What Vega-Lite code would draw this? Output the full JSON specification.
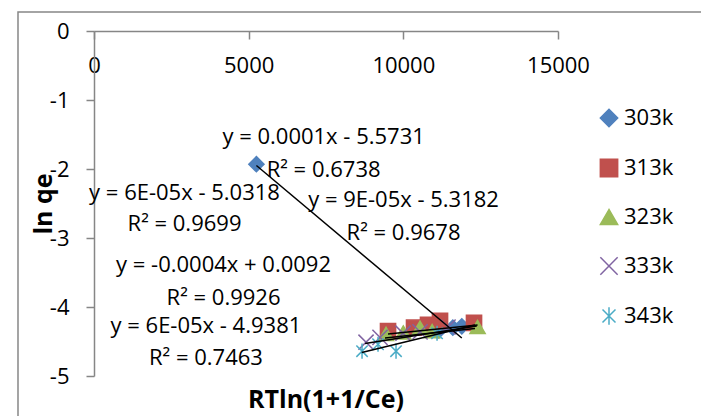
{
  "$schema": "https://vega.github.io/schema/vega-lite/v6.json",
  "width": 464,
  "height": 345,
  "autosize": {"type": "none"},
  "padding": {"left": 94, "top": 31, "right": 143, "bottom": 40},
  "background": "white",
  "config": {
    "locale": {
      "number": {"decimal": ".", "thousands": "", "grouping": [3], "currency": ["", ""], "minus": "-"}
    },
    "view": {"stroke": null},
    "font": "Open Sans",
    "axis": {
      "grid": false,
      "domainColor": "#868686",
      "domainWidth": 1.5,
      "tickColor": "#868686",
      "tickWidth": 1.5,
      "tickSize": 8,
      "labelColor": "#000000",
      "labelFont": "Open Sans",
      "labelFontSize": 22,
      "labelFlush": false,
      "labelOverlap": false,
      "titleFont": "Open Sans",
      "titleFontSize": 25,
      "titleFontWeight": "bold",
      "titleColor": "#000000"
    }
  },
  "datasets": {
    "points": [
      {"series": "303k", "x": 5250, "y": -1.93},
      {"series": "303k", "x": 11150, "y": -4.34},
      {"series": "303k", "x": 11600, "y": -4.3},
      {"series": "303k", "x": 11890, "y": -4.28},
      {"series": "313k", "x": 9505, "y": -4.35},
      {"series": "313k", "x": 10346, "y": -4.3},
      {"series": "313k", "x": 10798, "y": -4.26},
      {"series": "313k", "x": 11186, "y": -4.2},
      {"series": "313k", "x": 12285, "y": -4.23},
      {"series": "323k", "x": 9440, "y": -4.39},
      {"series": "323k", "x": 10000, "y": -4.37},
      {"series": "323k", "x": 10540, "y": -4.3},
      {"series": "323k", "x": 10930, "y": -4.35},
      {"series": "323k", "x": 12400, "y": -4.29},
      {"series": "333k", "x": 8794, "y": -4.51},
      {"series": "333k", "x": 9246, "y": -4.44},
      {"series": "333k", "x": 9990, "y": -4.38},
      {"series": "333k", "x": 10540, "y": -4.36},
      {"series": "333k", "x": 11445, "y": -4.29},
      {"series": "343k", "x": 8665, "y": -4.64},
      {"series": "343k", "x": 9182, "y": -4.54},
      {"series": "343k", "x": 9764, "y": -4.64},
      {"series": "343k", "x": 11090, "y": -4.38}
    ],
    "trend": [
      {"series": "303k", "x": 5250, "y": -1.95},
      {"series": "303k", "x": 11890, "y": -4.45},
      {"series": "313k", "x": 9505, "y": -4.39},
      {"series": "313k", "x": 12400, "y": -4.26},
      {"series": "323k", "x": 9408, "y": -4.45},
      {"series": "323k", "x": 12318, "y": -4.31},
      {"series": "333k", "x": 8762, "y": -4.53},
      {"series": "333k", "x": 12373, "y": -4.275},
      {"series": "343k", "x": 8655, "y": -4.66},
      {"series": "343k", "x": 12318, "y": -4.26}
    ],
    "equations": [
      {"label": "y = 0.0001x - 5.5731", "x": 7423, "y": -1.532},
      {"label": "R² = 0.6738", "x": 7423, "y": -2.014},
      {"label": "y = 6E-05x - 5.0318", "x": 2926, "y": -2.343},
      {"label": "R² = 0.9699", "x": 2926, "y": -2.797},
      {"label": "y = 9E-05x - 5.3182", "x": 10007, "y": -2.449},
      {"label": "R² = 0.9678", "x": 10007, "y": -2.923},
      {"label": "y = -0.0004x + 0.0092", "x": 4187, "y": -3.391},
      {"label": "R² = 0.9926", "x": 4187, "y": -3.865},
      {"label": "y = 6E-05x - 4.9381", "x": 3618, "y": -4.275},
      {"label": "R² = 0.7463", "x": 3618, "y": -4.744}
    ]
  },
  "layer": [
    {
      "data": {"name": "points"},
      "mark": {"type": "point", "opacity": 1, "strokeWidth": 1.5, "size": 230},
      "encoding": {
        "x": {
          "field": "x", "type": "quantitative",
          "scale": {"domain": [0, 15000], "nice": false, "zero": false},
          "axis": {"title": null, "orient": "bottom", "offset": -345, "values": [0, 5000, 10000, 15000], "format": "d", "labelPadding": 16}
        },
        "y": {
          "field": "y", "type": "quantitative",
          "scale": {"domain": [-5, 0], "nice": false, "zero": false},
          "axis": {"title": "ln qe", "values": [-5, -4, -3, -2, -1, 0], "format": "d", "labelPadding": 17, "titlePadding": -7}
        },
        "shape": {
          "field": "series", "type": "nominal",
          "scale": {
            "domain": ["303k", "313k", "323k", "333k", "343k"],
            "range": ["diamond", "square", "triangle-up", "M-1,-1L1,1M-1,1L1,-1", "M0,-1L0,1M-0.75,-0.75L0.75,0.75M-0.75,0.75L0.75,-0.75"]
          },
          "legend": {"title": null, "orient": "none", "legendX": 504, "legendY": 76, "labelFontSize": 22, "labelFont": "Open Sans", "labelColor": "#000000", "symbolSize": 300, "symbolStrokeWidth": 1.5, "rowPadding": 26, "labelOffset": 4}
        },
        "fill": {
          "field": "series", "type": "nominal",
          "scale": {
            "domain": ["303k", "313k", "323k", "333k", "343k"],
            "range": ["#4F81BD", "#C0504D", "#9BBB59", "transparent", "transparent"]
          },
          "legend": {"title": null, "orient": "none", "legendX": 504, "legendY": 76, "labelFontSize": 22, "labelFont": "Open Sans", "labelColor": "#000000", "symbolSize": 300, "symbolStrokeWidth": 1.5, "rowPadding": 26, "labelOffset": 4}
        },
        "stroke": {
          "field": "series", "type": "nominal",
          "scale": {
            "domain": ["303k", "313k", "323k", "333k", "343k"],
            "range": ["#4F81BD", "#C0504D", "#9BBB59", "#8064A2", "#4BACC6"]
          },
          "legend": {"title": null, "orient": "none", "legendX": 504, "legendY": 76, "labelFontSize": 22, "labelFont": "Open Sans", "labelColor": "#000000", "symbolSize": 300, "symbolStrokeWidth": 1.5, "rowPadding": 26, "labelOffset": 4}
        }
      }
    },
    {
      "data": {"name": "trend"},
      "mark": {"type": "line", "color": "#000000", "strokeWidth": 1.5},
      "encoding": {
        "x": {"field": "x", "type": "quantitative", "scale": {"domain": [0, 15000], "nice": false, "zero": false},
          "axis": {"title": null, "orient": "bottom", "offset": -345, "values": [0, 5000, 10000, 15000], "format": "d", "labelPadding": 16}},
        "y": {"field": "y", "type": "quantitative", "scale": {"domain": [-5, 0], "nice": false, "zero": false},
          "axis": {"title": "ln qe", "values": [-5, -4, -3, -2, -1, 0], "format": "d", "labelPadding": 17, "titlePadding": -7}},
        "detail": {"field": "series", "type": "nominal"}
      }
    },
    {
      "data": {"name": "equations"},
      "mark": {"type": "text", "font": "Open Sans", "fontSize": 22, "color": "#000000", "align": "center", "baseline": "middle"},
      "encoding": {
        "x": {"field": "x", "type": "quantitative", "scale": {"domain": [0, 15000], "nice": false, "zero": false},
          "axis": {"title": null, "orient": "bottom", "offset": -345, "values": [0, 5000, 10000, 15000], "format": "d", "labelPadding": 16}},
        "y": {"field": "y", "type": "quantitative", "scale": {"domain": [-5, 0], "nice": false, "zero": false},
          "axis": {"title": "ln qe", "values": [-5, -4, -3, -2, -1, 0], "format": "d", "labelPadding": 17, "titlePadding": -7}},
        "text": {"field": "label", "type": "nominal"}
      }
    },
    {
      "description": "x-axis title, set below the plot in data units",
      "data": {"values": [{"label": "RTln(1+1/Ce)", "x": 7500, "y": -5.348}]},
      "mark": {"type": "text", "font": "Open Sans", "fontSize": 25, "fontWeight": "bold", "color": "#000000", "align": "center", "baseline": "middle", "clip": false},
      "encoding": {
        "x": {"field": "x", "type": "quantitative", "scale": {"domain": [0, 15000], "nice": false, "zero": false},
          "axis": {"title": null, "orient": "bottom", "offset": -345, "values": [0, 5000, 10000, 15000], "format": "d", "labelPadding": 16}},
        "y": {"field": "y", "type": "quantitative", "scale": {"domain": [-5, 0], "nice": false, "zero": false},
          "axis": {"title": "ln qe", "values": [-5, -4, -3, -2, -1, 0], "format": "d", "labelPadding": 17, "titlePadding": -7}},
        "text": {"field": "label", "type": "nominal"}
      }
    },
    {
      "description": "Chart-area frame",
      "data": {"values": [{"left": -2457, "right": 40000, "top": 0.275, "bottom": -10}]},
      "mark": {"type": "rect", "fill": "transparent", "stroke": "#878787", "strokeWidth": 1.5, "clip": false},
      "encoding": {
        "x": {"field": "left", "type": "quantitative", "scale": {"domain": [0, 15000], "nice": false, "zero": false},
          "axis": {"title": null, "orient": "bottom", "offset": -345, "values": [0, 5000, 10000, 15000], "format": "d", "labelPadding": 16}},
        "x2": {"field": "right"},
        "y": {"field": "top", "type": "quantitative", "scale": {"domain": [-5, 0], "nice": false, "zero": false},
          "axis": {"title": "ln qe", "values": [-5, -4, -3, -2, -1, 0], "format": "d", "labelPadding": 17, "titlePadding": -7}},
        "y2": {"field": "bottom"}
      }
    }
  ]
}
